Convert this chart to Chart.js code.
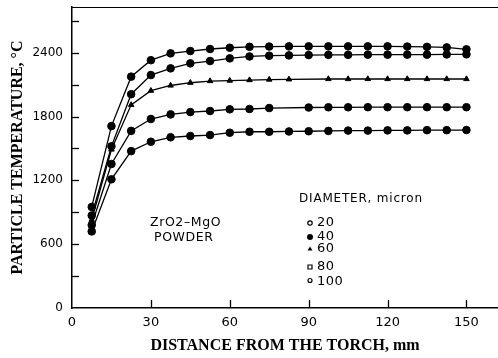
<!DOCTYPE html>
<html>
<head>
<meta charset="utf-8">
<script src="https://cdn.jsdelivr.net/npm/chart.js@4/dist/chart.umd.min.js"></script>
<style>
  html, body { margin: 0; padding: 0; background: #fff; }
  #wrap { width: 498px; height: 358px; }
</style>
</head>
<body>
<div id="wrap"><canvas id="c" width="498" height="358"></canvas></div>
<script>
// Distance from the torch (mm)
const distances = [7.5, 15, 22.5, 30, 37.5, 45, 52.5, 60, 67.5, 75, 82.5, 90, 97.5, 105, 112.5, 120, 127.5, 135, 142.5, 150];
// Particle temperature (°C) per diameter (micron)
const d20  = [870, 1520, 2010, 2190, 2253, 2300, 2322, 2347, 2365, 2372, 2375, 2378, 2380, 2380, 2382, 2382, 2382, 2382, 2384, 2385];
const d40  = [950, 1710, 2175, 2330, 2394, 2416, 2435, 2447, 2456, 2458, 2460, 2460, 2460, 2460, 2460, 2460, 2458, 2455, 2450, 2432];
const d60  = [830, 1490, 1910, 2043, 2092, 2118, 2134, 2138, 2143, 2148, 2150, null, 2153, 2153, 2153, 2153, 2153, 2153, 2153, 2153];
const d80  = [780, 1354, 1665, 1777, 1820, 1842, 1852, 1868, 1871, 1880, null, 1885, 1887, 1887, 1888, 1888, 1888, 1888, 1888, 1888];
const d100 = [720, 1210, 1475, 1563, 1605, 1617, 1626, 1648, 1657, 1657, 1660, 1662, 1665, 1668, 1668, 1670, 1670, 1672, 1672, 1673];
const seriesLabels = ['20', '40', '60', '80', '100'];
const seriesValues = [d20, d40, d60, d80, d100];
const seriesStyles = ['circle', 'circle', 'triangle', 'circle', 'circle'];
// ticks
const xTicks = [0, 30, 60, 90, 120, 150];
const yTicks = [0, 300, 600, 900, 1200, 1500, 1800, 2100, 2400, 2700];
const yTickLabels = ['0', '', '600', '', '1200', '', '1800', '', '2400', ''];
const legendTitle = 'DIAMETER, micron';
const noteLines = ['ZrO2\u2013MgO', 'POWDER'];
const xTitle = 'DISTANCE FROM THE TORCH, mm';
const yTitle = 'PARTICLE TEMPERATURE, \u00B0C';

const datasets = seriesValues.map((vals, i) => ({
  label: seriesLabels[i],
  data: distances.map((x, j) => ({ x: x, y: vals[j] })),
  borderColor: '#000',
  backgroundColor: '#000',
  borderWidth: 1.3,
  pointStyle: seriesStyles[i],
  pointRadius: seriesStyles[i] === 'triangle' ? 3.2 : 3.8,
  pointBackgroundColor: '#000',
  pointBorderColor: '#000',
  pointBorderWidth: 1,
  tension: 0,
  spanGaps: true,
  clip: false
}));

const decor = {
  id: 'decor',
  afterDraw(chart) {
    const ctx = chart.ctx;
    const ca = chart.chartArea;
    const xs = chart.scales.x, ys = chart.scales.y;
    ctx.save();
    ctx.strokeStyle = '#000';
    // top frame line
    ctx.lineWidth = 1.2;
    ctx.beginPath();
    ctx.moveTo(ca.left, ca.top + 0.5);
    ctx.lineTo(ca.right, ca.top + 0.5);
    ctx.stroke();
    // inward ticks
    ctx.lineWidth = 1.3;
    ys.ticks.forEach(t => {
      if (t.value > 0) {
        const y = Math.round(ys.getPixelForValue(t.value)) + 0.5;
        ctx.beginPath(); ctx.moveTo(ca.left, y); ctx.lineTo(ca.left + 7, y); ctx.stroke();
      }
    });
    xs.ticks.forEach(t => {
      if (t.value > 0) {
        const x = Math.round(xs.getPixelForValue(t.value)) + 0.5;
        ctx.beginPath(); ctx.moveTo(x, ca.bottom); ctx.lineTo(x, ca.bottom - 8); ctx.stroke();
      }
    });
    // annotation
    ctx.fillStyle = '#000';
    ctx.textBaseline = 'middle';
    ctx.textAlign = 'left';
    ctx.font = '12.5px "DejaVu Sans"';
    ctx.letterSpacing = '0.6px';
    ctx.fillText(noteLines[0], 150, 223);
    ctx.fillText(noteLines[1], 154, 238);
    // legend
    ctx.font = '12px "DejaVu Sans"';
    ctx.letterSpacing = '0.8px';
    ctx.fillText(legendTitle, 299, 199);
    ctx.font = '13px "DejaVu Sans"';
    ctx.letterSpacing = '0.5px';
    const ly = [223, 237, 249, 267, 282];
    const mx = 310;
    seriesLabels.forEach((lab, i) => {
      const y = ly[i];
      ctx.lineWidth = 1.2;
      ctx.beginPath();
      if (i === 0) { ctx.arc(mx, y, 2.2, 0, Math.PI * 2); ctx.stroke(); }
      else if (i === 1) { ctx.arc(mx, y, 3, 0, Math.PI * 2); ctx.fill(); }
      else if (i === 2) { ctx.moveTo(mx, y - 2.5); ctx.lineTo(mx + 2.5, y + 1.5); ctx.lineTo(mx - 2.5, y + 1.5); ctx.closePath(); ctx.fill(); }
      else if (i === 3) { ctx.rect(mx - 2, y - 2, 4, 4); ctx.stroke(); }
      else { ctx.arc(mx, y - 1.5, 2, 0, Math.PI * 2); ctx.stroke(); }
      ctx.fillText(lab, 317, y);
    });
    ctx.restore();
  }
};

new Chart(document.getElementById('c'), {
  type: 'line',
  data: { datasets: datasets },
  options: {
    responsive: false,
    animation: false,
    devicePixelRatio: 1,
    layout: { autoPadding: false, padding: { top: 7, right: 0, left: 0, bottom: 0 } },
    plugins: { legend: { display: false }, tooltip: { enabled: false } },
    scales: {
      x: {
        type: 'linear',
        min: 0, max: 162,
        afterFit(s) { s.height = 50; s.paddingRight = 0; s.paddingLeft = 0; },
        afterBuildTicks(s) { s.ticks = xTicks.map(v => ({ value: v })); },
        grid: { display: true, drawOnChartArea: false, drawTicks: false },
        border: { display: true, color: '#000', width: 1.5 },
        ticks: {
          autoSkip: false, maxRotation: 0, padding: 7,
          color: '#000', font: { family: 'DejaVu Sans', size: 13 },
          callback: (v, i) => String(xTicks[i])
        },
        title: {
          display: true, text: xTitle, color: '#000',
          font: { family: 'Liberation Serif', size: 16, weight: 'bold' },
          padding: { top: 0, bottom: 3 }
        }
      },
      y: {
        type: 'linear',
        min: 0, max: 2830,
        afterFit(s) { s.width = 72; s.paddingTop = 0; s.paddingBottom = 0; },
        afterBuildTicks(s) { s.ticks = yTicks.map(v => ({ value: v })); },
        grid: { display: true, drawOnChartArea: false, drawTicks: false },
        border: { display: true, color: '#000', width: 1.5 },
        ticks: {
          autoSkip: false, padding: 9,
          color: '#000', font: { family: 'DejaVu Sans', size: 12 },
          callback: (v, i) => yTickLabels[i]
        },
        title: {
          display: true, text: yTitle, color: '#000',
          font: { family: 'Liberation Serif', size: 16, weight: 'bold' },
          padding: { top: 8, bottom: 0 }
        }
      }
    }
  },
  plugins: [decor]
});
</script>
</body>
</html>
